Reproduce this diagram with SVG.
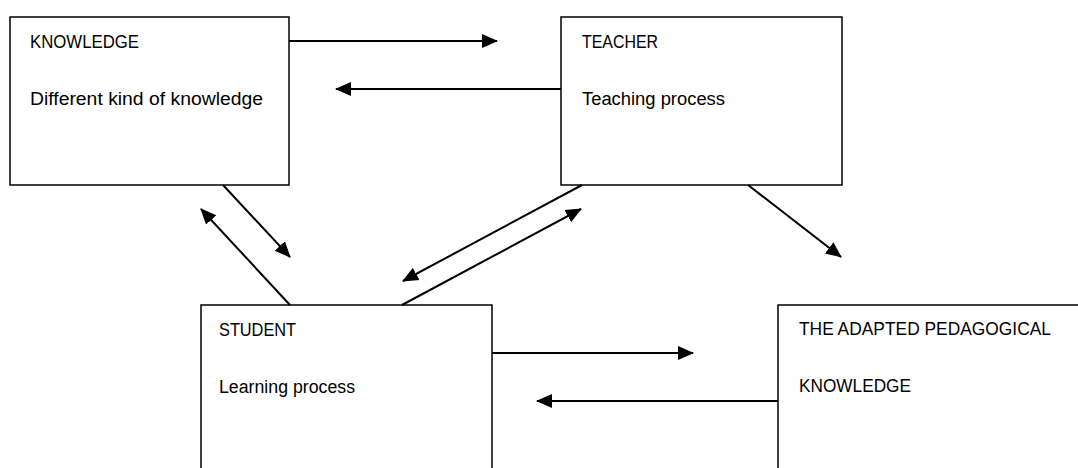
<svg xmlns="http://www.w3.org/2000/svg" width="1078" height="468" viewBox="0 0 1078 468">
<style>
.box{fill:#fff;stroke:#000;stroke-width:1.5}
.t{font-family:"Liberation Sans",Arial,sans-serif;font-size:18px;fill:#000}
.c{stroke:#000;stroke-width:2;fill:none;marker-end:url(#ah)}
</style>
<defs>
<marker id="ah" markerUnits="userSpaceOnUse" markerWidth="16" markerHeight="16" viewBox="0 0 16 16" refX="15" refY="8" orient="auto">
<path d="M0,1 L16,8 L0,15 Z" fill="#000"/>
</marker>
</defs>
<rect width="1078" height="468" fill="#fff"/>
<g id="knowledge">
<rect class="box" x="10" y="17" width="279" height="168"/>
<text class="t" x="30" y="48" textLength="109" lengthAdjust="spacingAndGlyphs">KNOWLEDGE</text>
<text class="t" x="30" y="105" textLength="233" lengthAdjust="spacingAndGlyphs">Different kind of knowledge</text>
</g>
<g id="teacher">
<rect class="box" x="561" y="17" width="281" height="168"/>
<text class="t" x="582" y="48" textLength="76" lengthAdjust="spacingAndGlyphs">TEACHER</text>
<text class="t" x="582" y="105" textLength="143" lengthAdjust="spacingAndGlyphs">Teaching process</text>
</g>
<g id="student">
<rect class="box" x="201" y="305" width="291" height="170"/>
<text class="t" x="219" y="336" textLength="77" lengthAdjust="spacingAndGlyphs">STUDENT</text>
<text class="t" x="219" y="393" textLength="136" lengthAdjust="spacingAndGlyphs">Learning process</text>
</g>
<g id="adapted">
<rect class="box" x="778" y="305" width="310" height="170"/>
<text class="t" x="799" y="335" textLength="252" lengthAdjust="spacingAndGlyphs">THE ADAPTED PEDAGOGICAL</text>
<text class="t" x="799" y="392" textLength="112" lengthAdjust="spacingAndGlyphs">KNOWLEDGE</text>
</g>
<g id="connectors">
<line class="c" x1="289" y1="41" x2="497" y2="41"/>
<line class="c" x1="561" y1="89" x2="336" y2="89"/>
<line class="c" x1="748" y1="185" x2="841" y2="257"/>
<line class="c" x1="582" y1="185" x2="403" y2="281"/>
<line class="c" x1="402" y1="305" x2="581" y2="209"/>
<line class="c" x1="223" y1="185" x2="290" y2="257"/>
<line class="c" x1="290" y1="305" x2="201" y2="209"/>
<line class="c" x1="492" y1="353" x2="693" y2="353"/>
<line class="c" x1="778" y1="401" x2="537" y2="401"/>
</g>
</svg>
